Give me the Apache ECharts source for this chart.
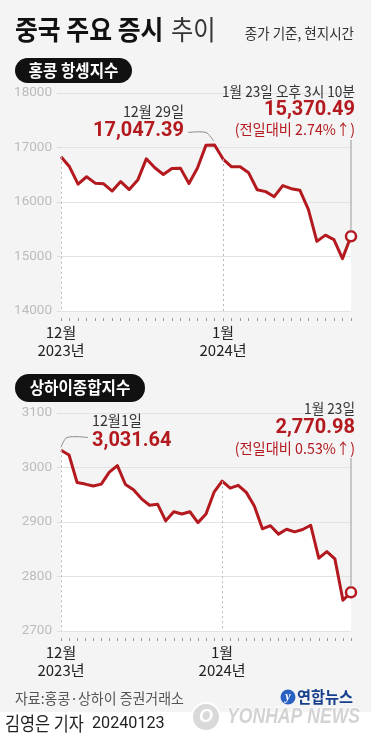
<!DOCTYPE html>
<html><head><meta charset="utf-8">
<script src="https://cdn.jsdelivr.net/npm/echarts@6/dist/echarts.min.js"></script>
<style>html,body{margin:0;padding:0;background:#f4f4f4;}#c{width:371px;height:750px;}</style>
</head><body><div id="c"></div>
<script>
// ---- data ----
const hsDates = ['12-01','12-04','12-05','12-06','12-07','12-08','12-11','12-12','12-13','12-14','12-15','12-18','12-19','12-20','12-21','12-22','12-27','12-28','12-29',
  '01-02','01-03','01-04','01-05','01-08','01-09','01-10','01-11','01-12','01-15','01-16','01-17','01-18','01-19','01-22','01-23'];
const hsValues = [16830.30,16646.06,16327.86,16463.26,16345.89,16334.37,16201.49,16374.50,16228.75,16402.19,16792.19,16629.23,16505.00,16613.81,16621.22,16340.41,16624.84,17043.53,17047.39,
  16788.55,16645.98,16646.41,16535.33,16224.45,16190.02,16097.28,16302.01,16244.58,16216.33,15865.92,15276.90,15391.62,15308.69,14961.18,15370.49];
const shDates = ['12-01','12-04','12-05','12-06','12-07','12-08','12-11','12-12','12-13','12-14','12-15','12-18','12-19','12-20','12-21','12-22','12-25','12-26','12-27','12-28','12-29',
  '01-02','01-03','01-04','01-05','01-08','01-09','01-10','01-11','01-12','01-15','01-16','01-17','01-18','01-19','01-22','01-23'];
const shValues = [3031.64,3022.91,2972.30,2969.56,2966.21,2969.56,2991.44,3003.35,2968.76,2958.99,2942.56,2930.80,2932.39,2902.11,2918.72,2914.78,2918.81,2898.82,2914.61,2954.70,2974.93,
  2962.28,2967.25,2954.35,2929.18,2887.54,2893.25,2877.70,2886.65,2881.98,2886.29,2893.99,2833.62,2845.78,2832.28,2756.34,2770.98];
const hsTicks = [14000,15000,16000,17000,18000];
const shTicks = [2700,2800,2900,3000,3100];
const hsXLabels = {'12-01':'12월\n2023년','01-02':'1월\n2024년'};
const shXLabels = {'12-01':'12월\n2023년','12-29':'1월\n2024년'};
const hsGuides = ['12-01','01-02'];
const shGuides = ['12-01','12-29'];
const hsPeakDate = '12-29';

const RED = '#b3191e';
const FONT = '"Noto Sans CJK KR", "Noto Sans", sans-serif';

const chart = echarts.init(document.getElementById('c'));

function xAxis(gi, dates, labels) {
  return {gridIndex: gi, type: 'category', data: dates, boundaryGap: false, offset: 7, z: 2,
    axisLine: {show: false},
    axisTick: {show: true, interval: 0, length: 3, lineStyle: {color: '#9a9a9a'}},
    axisLabel: {interval: 0, formatter: v => labels[v] || '', color: '#222', fontSize: 15, lineHeight: 18, margin: 5, fontFamily: FONT}
  };
}
function yAxis(gi, ticks) {
  return {gridIndex: gi, type: 'value', min: ticks[0], max: ticks[ticks.length-1], interval: ticks[1]-ticks[0], z: 2,
    axisLine: {show: false},
    axisTick: {show: true, length: 4, lineStyle: {color: '#dedede'}},
    splitLine: {lineStyle: {color: '#e3e3e3', width: 1}},
    axisLabel: {color: '#bcbcbc', fontSize: 13.5, margin: 9, fontFamily: 'Roboto, sans-serif', formatter: v => String(v)}
  };
}
function seriesFor(gi, dates, vals, guides, ymin) {
  const last = vals.length - 1;
  return [
    {type: 'line', xAxisIndex: gi, yAxisIndex: gi, data: vals, symbol: 'none', silent: true, z: 1,
      lineStyle: {width: 0}, areaStyle: {color: '#ffffff', opacity: 1, origin: 'start'}},
    {type: 'line', xAxisIndex: gi, yAxisIndex: gi, data: vals, symbol: 'none', silent: true, z: 3,
      lineStyle: {color: RED, width: 3, join: 'round'},
      markLine: {silent: true, symbol: 'none', label: {show: false},
        lineStyle: {type: [2, 3], color: '#b8b8b8', width: 1},
        data: guides.map(d => { const i = dates.indexOf(d); return [{coord: [d, vals[i]]}, {coord: [d, ymin]}]; })}},
    {type: 'scatter', xAxisIndex: gi, yAxisIndex: gi, data: [[dates[last], vals[last]]], symbolSize: 10, z: 5, silent: true,
      itemStyle: {color: '#fff', borderColor: RED, borderWidth: 2.5, opacity: 1}}
  ];
}

chart.setOption({
  animation: false,
  backgroundColor: '#f4f4f4',
  grid: [{left: 61, right: 20, top: 93, height: 218}, {left: 61, right: 20, top: 413, height: 218}],
  xAxis: [xAxis(0, hsDates, hsXLabels), xAxis(1, shDates, shXLabels)],
  yAxis: [yAxis(0, hsTicks), yAxis(1, shTicks)],
  series: [...seriesFor(0, hsDates, hsValues, hsGuides, hsTicks[0]), ...seriesFor(1, shDates, shValues, shGuides, shTicks[0])]
});

function px(gi, d, v) { return chart.convertToPixel({gridIndex: gi}, [d, v]); }
function txt(x, y, text, o) {
  o = o || {};
  return {type: 'text', x: x, y: y, scaleX: o.sx || 1, z: o.z || 10,
    style: {text: text, fill: o.fill || '#222', fontSize: o.size || 14, fontWeight: o.weight || 'normal', fontFamily: o.family || FONT,
      fontStyle: o.style || 'normal', stroke: o.stroke, lineWidth: o.lw || 0,
      align: o.align || 'left', textAlign: o.align || 'left', verticalAlign: 'middle', textVerticalAlign: 'middle'}};
}

const hsLast = px(0, hsDates[hsDates.length-1], hsValues[hsValues.length-1]);
const shLast = px(1, shDates[shDates.length-1], shValues[shValues.length-1]);
const hsPeak = px(0, hsPeakDate, hsValues[hsDates.indexOf(hsPeakDate)]);
const shFirst = px(1, shDates[0], shValues[0]);

const g = [
  // title
  txt(15, 30, '중국 주요 증시', {size: 27, weight: 'bold', sx: 0.92, fill: '#111'}),
  txt(171, 30, '추이', {size: 27, sx: 0.9, fill: '#333'}),
  txt(354, 33, '종가 기준, 현지시간', {size: 15, sx: 0.9, fill: '#333', align: 'right'}),
  // pills
  {type: 'rect', shape: {x: 15, y: 58, width: 117, height: 25, r: 12.5}, style: {fill: '#111'}, z: 10},
  txt(73.5, 70.5, '홍콩 항셍지수', {size: 17, weight: 'bold', fill: '#fff', align: 'center', sx: 0.92, z: 11}),
  {type: 'rect', shape: {x: 15, y: 374, width: 130, height: 28, r: 14}, style: {fill: '#111'}, z: 10},
  txt(80, 388, '상하이종합지수', {size: 17, weight: 'bold', fill: '#fff', align: 'center', sx: 0.92, z: 11}),
  // chart 1 annotations
  txt(184, 111, '12월 29일', {size: 15, sx: 0.95, fill: '#333', align: 'right'}),
  txt(184, 131, '17,047.39', {size: 20, weight: 'bold', fill: RED, align: 'right', family: 'Roboto, sans-serif'}),
  {type: 'polyline', shape: {points: [[188, 132.5], [206, 132.5], [hsPeak[0] - 1, hsPeak[1] - 4]], smooth: 0.3}, style: {stroke: '#8a8a8a', lineWidth: 1, fill: null}, z: 10},
  txt(355, 91, '1월 23일 오후 3시 10분', {size: 15, sx: 0.91, fill: '#333', align: 'right'}),
  txt(355, 110, '15,370.49', {size: 20, weight: 'bold', fill: RED, align: 'right', family: 'Roboto, sans-serif'}),
  txt(355, 129, '(전일대비 2.74%↑)', {size: 15, sx: 0.95, fill: RED, align: 'right'}),
  {type: 'line', shape: {x1: hsLast[0], y1: 140, x2: hsLast[0], y2: hsLast[1] - 5}, style: {stroke: '#999', lineWidth: 1}, z: 10},
  // chart 2 annotations
  txt(92, 420, '12월1일', {size: 15, sx: 0.95, fill: '#333'}),
  txt(92, 441, '3,031.64', {size: 20, weight: 'bold', fill: RED, family: 'Roboto, sans-serif'}),
  {type: 'polyline', shape: {points: [[shFirst[0], shFirst[1] - 3], [67, 437.5], [88, 437.5]], smooth: 0.3}, style: {stroke: '#8a8a8a', lineWidth: 1, fill: null}, z: 10},
  txt(355, 408, '1월 23일', {size: 15, sx: 0.91, fill: '#333', align: 'right'}),
  txt(355, 428, '2,770.98', {size: 20, weight: 'bold', fill: RED, align: 'right', family: 'Roboto, sans-serif'}),
  txt(355, 448, '(전일대비 0.53%↑)', {size: 15, sx: 0.95, fill: RED, align: 'right'}),
  {type: 'line', shape: {x1: shLast[0], y1: 458, x2: shLast[0], y2: shLast[1] - 5}, style: {stroke: '#999', lineWidth: 1}, z: 10},
  // source + logo
  txt(15, 698, '자료:홍콩·상하이 증권거래소', {size: 15, sx: 0.93, fill: '#555'}),
  {type: 'circle', shape: {cx: 288, cy: 697, r: 7.5}, style: {fill: '#2a62c4'}, z: 10},
  txt(288, 697, 'y', {size: 12, weight: 'bold', style: 'italic', fill: '#fff', align: 'center', family: 'Liberation Serif, serif', z: 11}),
  txt(297, 697, '연합뉴스', {size: 16, weight: 'bold', fill: '#173f8c', sx: 0.95}),
  // bottom white band
  {type: 'rect', shape: {x: 0, y: 712, width: 371, height: 38}, style: {fill: '#ffffff'}, z: 5},
  {type: 'circle', shape: {cx: 206, cy: 717, r: 14}, style: {fill: '#d9d9d9', stroke: '#fff', lineWidth: 2}, z: 10},
  txt(206, 717, 'O', {size: 18, weight: 'bold', style: 'italic', fill: '#fff', align: 'center', family: 'Liberation Sans, sans-serif', z: 11}),
  txt(227, 717, 'YONHAP NEWS', {size: 22, weight: 'bold', style: 'italic', fill: '#d3d3d3', stroke: '#ffffff', lw: 1.5, sx: 0.8, family: 'Liberation Sans, sans-serif'}),
  txt(5, 724, '김영은 기자', {size: 19, sx: 0.86, fill: '#222', z: 12}),
  txt(92, 724, '20240123', {size: 17, sx: 0.95, fill: '#222', family: 'Roboto, sans-serif', z: 12})
];
chart.setOption({graphic: {elements: g}});
</script></body></html>
